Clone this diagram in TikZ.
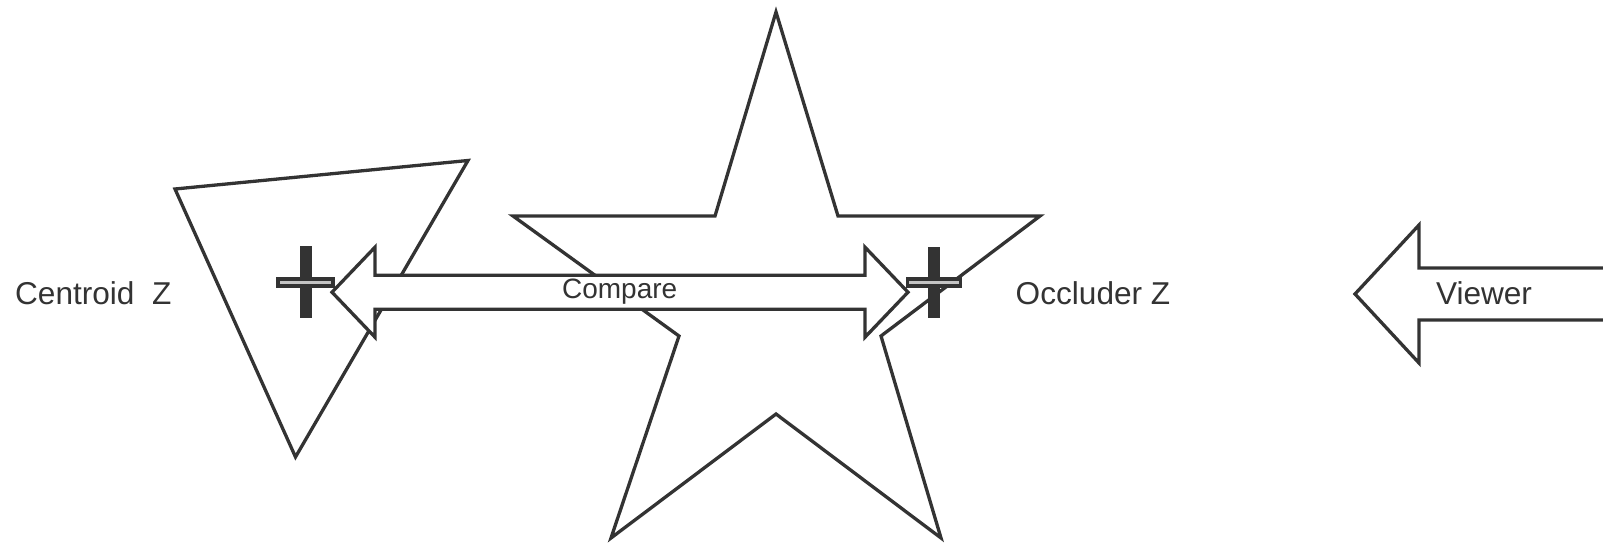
\documentclass[tikz,border=0pt]{standalone}
\usepackage{fontspec}
\setmainfont{Liberation Sans}
\usetikzlibrary{calc}
\definecolor{ink}{HTML}{333333}
\definecolor{barfill}{HTML}{C4C4C4}
\begin{document}
\begin{tikzpicture}[x=1pt,y=-1pt,
  outl/.style={draw=ink, line width=3.3pt, fill=white, line join=miter},
  lbl/.style={text=ink, inner sep=0pt, anchor=base, font=\fontsize{31.6}{37}\selectfont},
  smalllbl/.style={text=ink, inner sep=0pt, anchor=base, font=\fontsize{28}{33}\selectfont},
  vbar/.style={fill=ink},
  hbar/.style={draw=ink, fill=barfill, line width=3.8pt}]
\useasboundingbox (0,0) rectangle (1603,545);
\clip (0,0) rectangle (1603,545);
% triangle
\coordinate (t1) at (175,189);
\coordinate (t2) at (468,160.5);
\coordinate (t3) at (295.5,457);
\draw[outl] (t1) -- (t2) -- (t3) -- cycle;
% star
\coordinate (s1) at (776,12);
\coordinate (s2) at (838,216);
\coordinate (s3) at (1040,216);
\coordinate (s4) at (881,336);
\coordinate (s5) at (941,538);
\coordinate (s6) at (776,414);
\coordinate (s7) at (611,538);
\coordinate (s8) at (679,336);
\coordinate (s9) at (513,216);
\coordinate (s10) at (715,216);
\draw[outl] (s1) -- (s2) -- (s3) -- (s4) -- (s5) -- (s6) -- (s7) -- (s8) -- (s9) -- (s10) -- cycle;
% compare double arrow
\coordinate (cl) at (332,292.2);
\coordinate (cr) at (908,292.2);
\draw[outl] (cl) -- ($(cl)+(43,-45)$) -- ($(cl)+(43,-17)$) -- ($(cr)+(-43,-17)$) -- ($(cr)+(-43,-45)$)
  -- (cr) -- ($(cr)+(-43,45)$) -- ($(cr)+(-43,17)$) -- ($(cl)+(43,17)$) -- ($(cl)+(43,45)$) -- cycle;
\node[smalllbl] (cmp) at (619.7,298.3) {Compare};
% viewer arrow
\coordinate (vt) at (1355,294);
\draw[outl] (vt) -- ($(vt)+(64,-69)$) -- ($(vt)+(64,-26)$) -- ($(vt)+(280,-26)$)
  -- ($(vt)+(280,26)$) -- ($(vt)+(64,26)$) -- ($(vt)+(64,69)$) -- cycle;
\node[lbl] (view) at (1484,304.5) {Viewer};
% centroid cross
\coordinate (cc) at (305.5,282.2);
\fill[vbar] ($(cc)+(-6,-36)$) rectangle ($(cc)+(6,36)$);
\draw[hbar] ($(cc)+(-27.2,-3.5)$) rectangle ($(cc)+(27.2,3.5)$);
% occluder cross
\coordinate (oc) at (934,282.2);
\fill[vbar] ($(oc)+(-6,-35.5)$) rectangle ($(oc)+(6,35.5)$);
\draw[hbar] ($(oc)+(-26.5,-3.5)$) rectangle ($(oc)+(26.5,3.5)$);
% labels
\node[lbl] (cz) at (93.3,305) {Centroid\ \ Z};
\node[lbl] (oz) at (1093,305) {Occluder Z};
\end{tikzpicture}
\end{document}
